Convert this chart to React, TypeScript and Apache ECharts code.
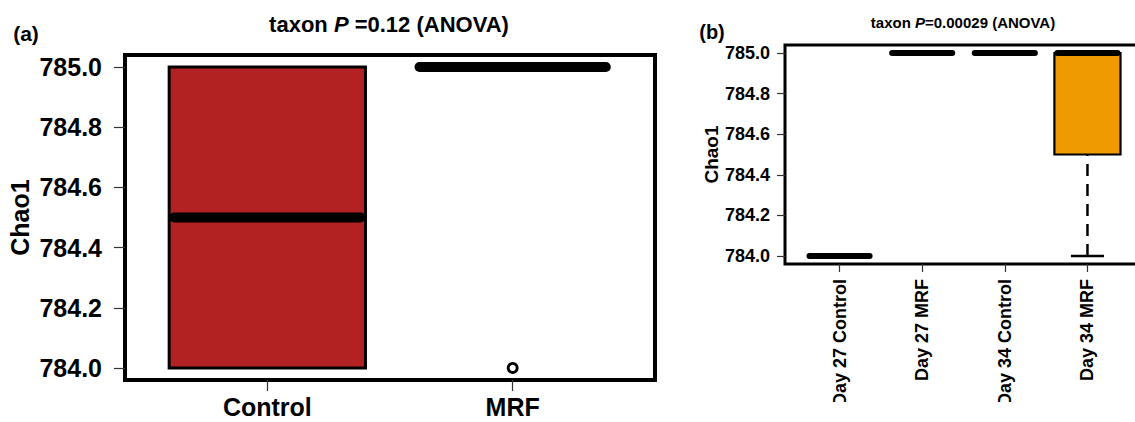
import React, { useEffect, useRef } from "react";
import * as echarts from "echarts";

// ---------- data ----------
const categoriesA = ["Control", "MRF"];
// [min, q1, median, q3, max]
const statsA = [
  [784.0, 784.0, 784.5, 785.0, 785.0],
  [785.0, 785.0, 785.0, 785.0, 785.0],
];
const colorsA = ["#B22222", "#B22222"];
const outlierCatsA = ["MRF"];
const outlierValsA = [784.0];

const categoriesB = ["Day 27 Control", "Day 27 MRF", "Day 34 Control", "Day 34 MRF"];
const statsB = [
  [784.0, 784.0, 784.0, 784.0, 784.0],
  [785.0, 785.0, 785.0, 785.0, 785.0],
  [785.0, 785.0, 785.0, 785.0, 785.0],
  [784.0, 784.5, 785.0, 785.0, 785.0],
];
const colorsB = ["#B22222", "#EE9A00", "#B22222", "#EE9A00"];

const yTicks = [784.0, 784.2, 784.4, 784.6, 784.8, 785.0];
const yMin = 783.96;
const yMax = 785.04;

const titleA = { pre: "taxon ", p: "P", post: " =0.12 (ANOVA)" };
const titleB = { pre: "taxon ", p: "P", post: "=0.00029 (ANOVA)" };

const FONT = "'Liberation Sans', Arial, Helvetica, sans-serif";

function makeRender(colors: string[], boxW: number, borderW: number, medW: number, whiskW: number, dash: number[]) {
  return (params: any, api: any) => {
    const x = api.value(0);
    const mn = api.value(1);
    const q1 = api.value(2);
    const md = api.value(3);
    const q3 = api.value(4);
    const mx = api.value(5);
    const half = boxW / 2;
    const pl = api.coord([x - half, q3]);
    const pr = api.coord([x + half, q1]);
    const pc = api.coord([x, md]);
    const pmin = api.coord([x, mn]);
    const pmax = api.coord([x, mx]);
    const capL = api.coord([x - half / 2, mn])[0];
    const capR = api.coord([x + half / 2, mn])[0];
    const children: any[] = [];
    if (mn < q1) {
      children.push({
        type: "line",
        shape: { x1: pmin[0], y1: pmin[1], x2: pmin[0], y2: pr[1] },
        style: { stroke: "#000", lineWidth: whiskW, lineDash: dash, fill: null },
      });
      children.push({
        type: "line",
        shape: { x1: capL, y1: pmin[1], x2: capR, y2: pmin[1] },
        style: { stroke: "#000", lineWidth: whiskW },
      });
    }
    if (mx > q3) {
      children.push({
        type: "line",
        shape: { x1: pmax[0], y1: pmax[1], x2: pmax[0], y2: pl[1] },
        style: { stroke: "#000", lineWidth: whiskW, lineDash: dash, fill: null },
      });
      children.push({
        type: "line",
        shape: { x1: capL, y1: pmax[1], x2: capR, y2: pmax[1] },
        style: { stroke: "#000", lineWidth: whiskW },
      });
    }
    if (q3 > q1) {
      children.push({
        type: "rect",
        shape: { x: pl[0], y: pl[1], width: pr[0] - pl[0], height: pr[1] - pl[1] },
        style: { fill: colors[params.dataIndex], stroke: "#000", lineWidth: borderW },
      });
    }
    children.push({
      type: "line",
      shape: { x1: pl[0] + medW / 2, y1: pc[1], x2: pr[0] - medW / 2, y2: pc[1] },
      style: { stroke: "#000", lineWidth: medW, lineCap: "round" },
    });
    return { type: "group", children };
  };
}

export default function App() {
  const ref = useRef<HTMLDivElement>(null);
  useEffect(() => {
    if (!ref.current) return;
    const chart = echarts.init(ref.current, null, { renderer: "svg" });

    const dataA = statsA.map((s, i) => [i + 1, ...s]);
    const dataB = statsB.map((s, i) => [i + 1, ...s]);
    const outA = outlierCatsA.map((c, i) => [categoriesA.indexOf(c) + 1, outlierValsA[i]]);

    const richTitle = (t: any, size: number) => ({
      text: `{n|${t.pre}}{i|${t.p}}{n|${t.post}}`,
      rich: {
        n: { fontSize: size, fontWeight: "bold", fontFamily: FONT, fill: "#000" },
        i: { fontSize: size, fontWeight: "bold", fontStyle: "italic", fontFamily: FONT, fill: "#000" },
      },
      align: "center",
      verticalAlign: "middle",
    });

    const yAxisBase = (fontSize: number, margin: number, tickLen: number, nameSize: number, nameGap: number, gi: number) => ({
      type: "value",
      gridIndex: gi,
      min: yMin,
      max: yMax,
      name: "Chao1",
      nameLocation: "middle",
      nameGap,
      nameTextStyle: { fontSize: nameSize, fontWeight: "bold", fontFamily: FONT, color: "#000" },
      axisLine: { show: false },
      splitLine: { show: false },
      axisTick: { show: true, length: tickLen, customValues: yTicks, lineStyle: { color: "#333", width: 1.2 } },
      axisLabel: {
        customValues: yTicks,
        margin,
        fontSize,
        fontWeight: "bold",
        fontFamily: FONT,
        color: "#000",
        formatter: (v: number) => v.toFixed(1),
      },
    });

    const option: any = {
      animation: false,
      backgroundColor: "#fff",
      grid: [
        { left: 125, top: 55, width: 530, height: 325, show: true, borderColor: "#000", borderWidth: 4, backgroundColor: "transparent", containLabel: false, outerBoundsMode: "none" },
        { left: 785, top: 45, width: 357, height: 219, show: true, borderColor: "#000", borderWidth: 3, backgroundColor: "transparent", containLabel: false, outerBoundsMode: "none" },
      ],
      xAxis: [
        {
          type: "value",
          gridIndex: 0,
          min: 0.42,
          max: 2.58,
          axisLine: { show: false },
          splitLine: { show: false },
          axisTick: { show: true, length: 11, customValues: categoriesA.map((_, i) => i + 1), lineStyle: { color: "#333", width: 1.2 } },
          axisLabel: {
            customValues: categoriesA.map((_, i) => i + 1),
            margin: 17,
            fontSize: 25,
            lineHeight: 20,
            fontWeight: "bold",
            fontFamily: FONT,
            color: "#000",
            formatter: (v: number) => categoriesA[Math.round(v) - 1] ?? "",
          },
        },
        {
          type: "value",
          gridIndex: 1,
          min: 0.34,
          max: 4.66,
          axisLine: { show: false },
          splitLine: { show: false },
          axisTick: { show: true, length: 8, customValues: categoriesB.map((_, i) => i + 1), lineStyle: { color: "#333", width: 1.2 } },
          axisLabel: {
            customValues: categoriesB.map((_, i) => i + 1),
            margin: 15,
            rotate: 90,
            fontSize: 18,
            fontWeight: "bold",
            fontFamily: FONT,
            color: "#000",
            formatter: (v: number) => categoriesB[Math.round(v) - 1] ?? "",
          },
        },
      ],
      yAxis: [yAxisBase(25, 23, 11, 25, 93, 0), yAxisBase(18, 15, 8, 19, 60, 1)],
      series: [
        {
          type: "custom",
          xAxisIndex: 0,
          yAxisIndex: 0,
          data: dataA,
          encode: { x: 0, y: [1, 2, 3, 4, 5] },
          renderItem: makeRender(colorsA, 0.8, 3, 10, 2.5, [12, 8]),
          z: 3,
        },
        {
          type: "scatter",
          xAxisIndex: 0,
          yAxisIndex: 0,
          data: outA,
          symbol: "circle",
          symbolSize: 9,
          itemStyle: { color: "#fff", borderColor: "#000", borderWidth: 2.8, opacity: 1 },
          z: 4,
        },
        {
          type: "custom",
          xAxisIndex: 1,
          yAxisIndex: 1,
          data: dataB,
          encode: { x: 0, y: [1, 2, 3, 4, 5] },
          renderItem: makeRender(colorsB, 0.8, 2.2, 6, 2.5, [12, 8]),
          z: 3,
        },
      ],
      graphic: [
        { type: "text", x: 389, y: 24, style: richTitle(titleA, 22), z: 10 },
        { type: "text", x: 963, y: 22, style: richTitle(titleB, 15), z: 10 },
        {
          type: "text",
          x: 26,
          y: 33,
          style: { text: "(a)", fontSize: 21, fontWeight: "bold", fontFamily: FONT, fill: "#000", align: "center", verticalAlign: "middle" },
          z: 10,
        },
        {
          type: "text",
          x: 712,
          y: 32,
          style: { text: "(b)", fontSize: 20, fontWeight: "bold", fontFamily: FONT, fill: "#000", align: "center", verticalAlign: "middle" },
          z: 10,
        },
        {
          type: "rect",
          x: 780,
          y: 402,
          shape: { width: 360, height: 30 },
          style: { fill: "#fff" },
          z: 100,
        },
      ],
    };
    chart.setOption(option);
    return () => chart.dispose();
  }, []);
  return (
    <div
      ref={ref}
      style={{ position: "fixed", left: 0, top: 0, width: 1135, height: 422, background: "#fff" }}
    />
  );
}
